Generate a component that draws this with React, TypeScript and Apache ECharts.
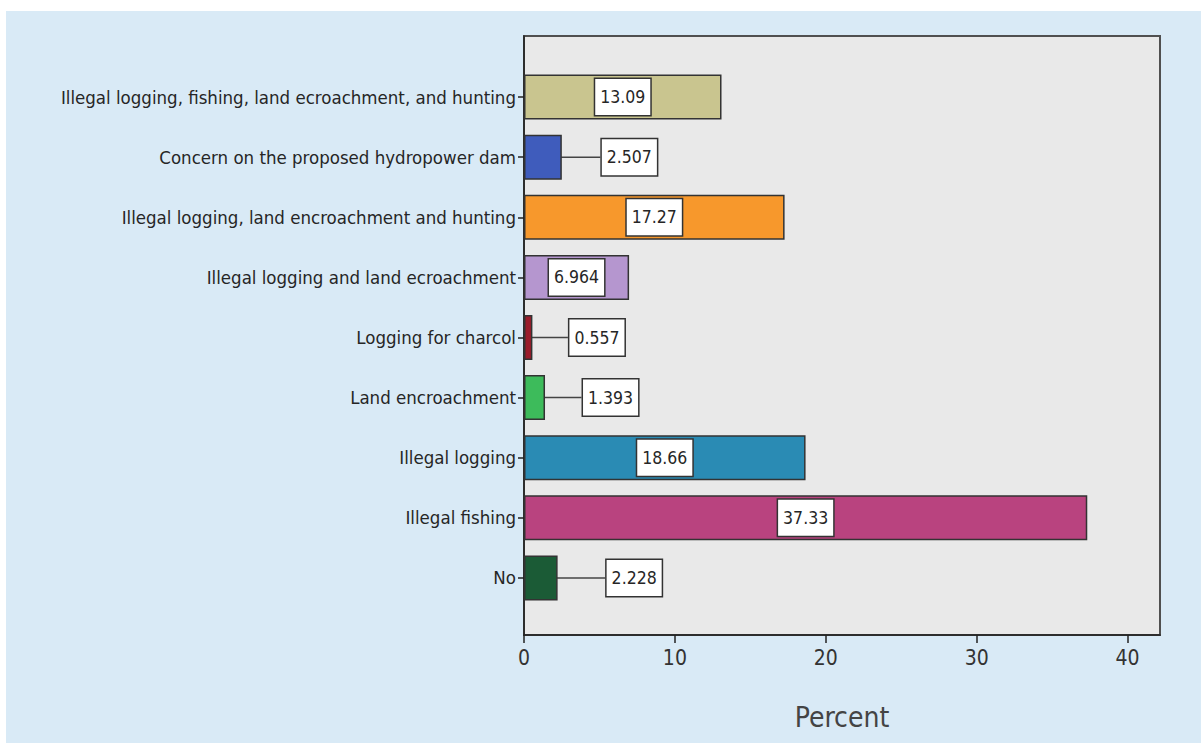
import React, { useEffect, useRef } from "react";
import * as echarts from "echarts";

// Reported threats, top row first
const categories = [
  "Illegal logging, fishing, land ecroachment, and hunting",
  "Concern on the proposed hydropower dam",
  "Illegal logging, land encroachment and hunting",
  "Illegal logging and land ecroachment",
  "Logging for charcol",
  "Land encroachment",
  "Illegal logging",
  "Illegal fishing",
  "No",
];
const percents = [13.09, 2.507, 17.27, 6.964, 0.557, 1.393, 18.66, 37.33, 2.228];
const barColors = [
  "#c9c58f",
  "#3f5cbc",
  "#f7982c",
  "#b596cf",
  "#9a1c2b",
  "#3dbb5b",
  "#2a8bb4",
  "#b9437f",
  "#1b5b36",
];
const xTicks = [0, 10, 20, 30, 40];
// bars too short to hold their value label get it outside, pushed right by a leader line
const leaderLength = [0, 40, 0, 0, 37, 38, 0, 0, 49];

const FONT = "'Liberation Sans Narrow', 'Arial Narrow', 'DejaVu Sans Condensed', sans-serif";
const X_MAX = 42.15;

export default function App() {
  const ref = useRef<HTMLDivElement>(null);

  useEffect(() => {
    if (!ref.current) return;
    const chart = echarts.init(ref.current, undefined, { renderer: "svg" });

    chart.setOption({
      animation: false,
      graphic: [
        {
          type: "rect",
          z: -20,
          silent: true,
          shape: { x: 6, y: 11, width: 1195, height: 732 },
          style: { fill: "#d9eaf6" },
        },
      ],
      grid: [
        {
          // plot frame with the value axis
          left: 524,
          top: 36,
          right: 41,
          bottom: 108,
          show: true,
          backgroundColor: "#e9e9e9",
          borderColor: "#505050",
          borderWidth: 2,
        },
        {
          // bar rows, inset inside the frame
          left: 524,
          top: 67,
          right: 41,
          bottom: 135,
        },
      ],
      xAxis: [
        {
          gridIndex: 0,
          type: "value",
          min: 0,
          max: X_MAX,
          interval: 10,
          splitLine: { show: false },
          axisLine: { show: true, lineStyle: { color: "#222", width: 1.5 } },
          axisTick: { show: true, length: 8, lineStyle: { color: "#222", width: 1.5 } },
          axisLabel: {
            fontFamily: FONT,
            fontSize: 21,
            color: "#333",
            margin: 12,
            showMaxLabel: false,
            formatter: (v: number) => (xTicks.includes(v) ? String(v) : ""),
          },
          name: "Percent",
          nameLocation: "middle",
          nameGap: 68,
          nameTextStyle: { fontFamily: FONT, fontSize: 28, color: "#444" },
        },
        {
          gridIndex: 1,
          type: "value",
          min: 0,
          max: X_MAX,
          show: false,
        },
      ],
      yAxis: [
        {
          gridIndex: 0,
          type: "value",
          min: 0,
          max: 1,
          axisLine: { show: true, lineStyle: { color: "#222", width: 1.5 } },
          axisTick: { show: false },
          axisLabel: { show: false },
          splitLine: { show: false },
        },
        {
          gridIndex: 1,
          type: "category",
          inverse: true,
          data: categories,
          axisLine: { show: false },
          axisTick: { show: true, length: 6, alignWithLabel: true, lineStyle: { color: "#222", width: 1.5 } },
          axisLabel: {
            fontFamily: FONT,
            fontSize: 18.5,
            color: "#262626",
            margin: 8,
          },
        },
      ],
      series: [
        {
          type: "bar",
          xAxisIndex: 1,
          yAxisIndex: 1,
          barWidth: 45,
          data: percents.map((v, i) => ({
            value: v,
            itemStyle: { color: barColors[i], borderColor: "#333", borderWidth: 1.5 },
            label: { position: leaderLength[i] > 0 ? "right" : "inside", distance: 0 },
          })),
          label: {
            show: true,
            formatter: (p: any) => String(p.value),
            fontFamily: FONT,
            fontSize: 17.5,
            lineHeight: 18,
            color: "#262626",
            backgroundColor: "#fff",
            borderColor: "#333",
            borderWidth: 1.5,
            padding: [9, 5],
          },
          labelLine: { show: true, lineStyle: { color: "#444", width: 1.5 } },
          labelLayout: (p: any) => (leaderLength[p.dataIndex] > 0 ? { dx: leaderLength[p.dataIndex] } : {}),
        },
      ],
    });

    return () => chart.dispose();
  }, []);

  return (
    <div style={{ position: "fixed", left: 0, top: 0, width: 1201, height: 743, background: "#fff" }}>
      <div ref={ref} style={{ width: 1201, height: 743 }} />
    </div>
  );
}
